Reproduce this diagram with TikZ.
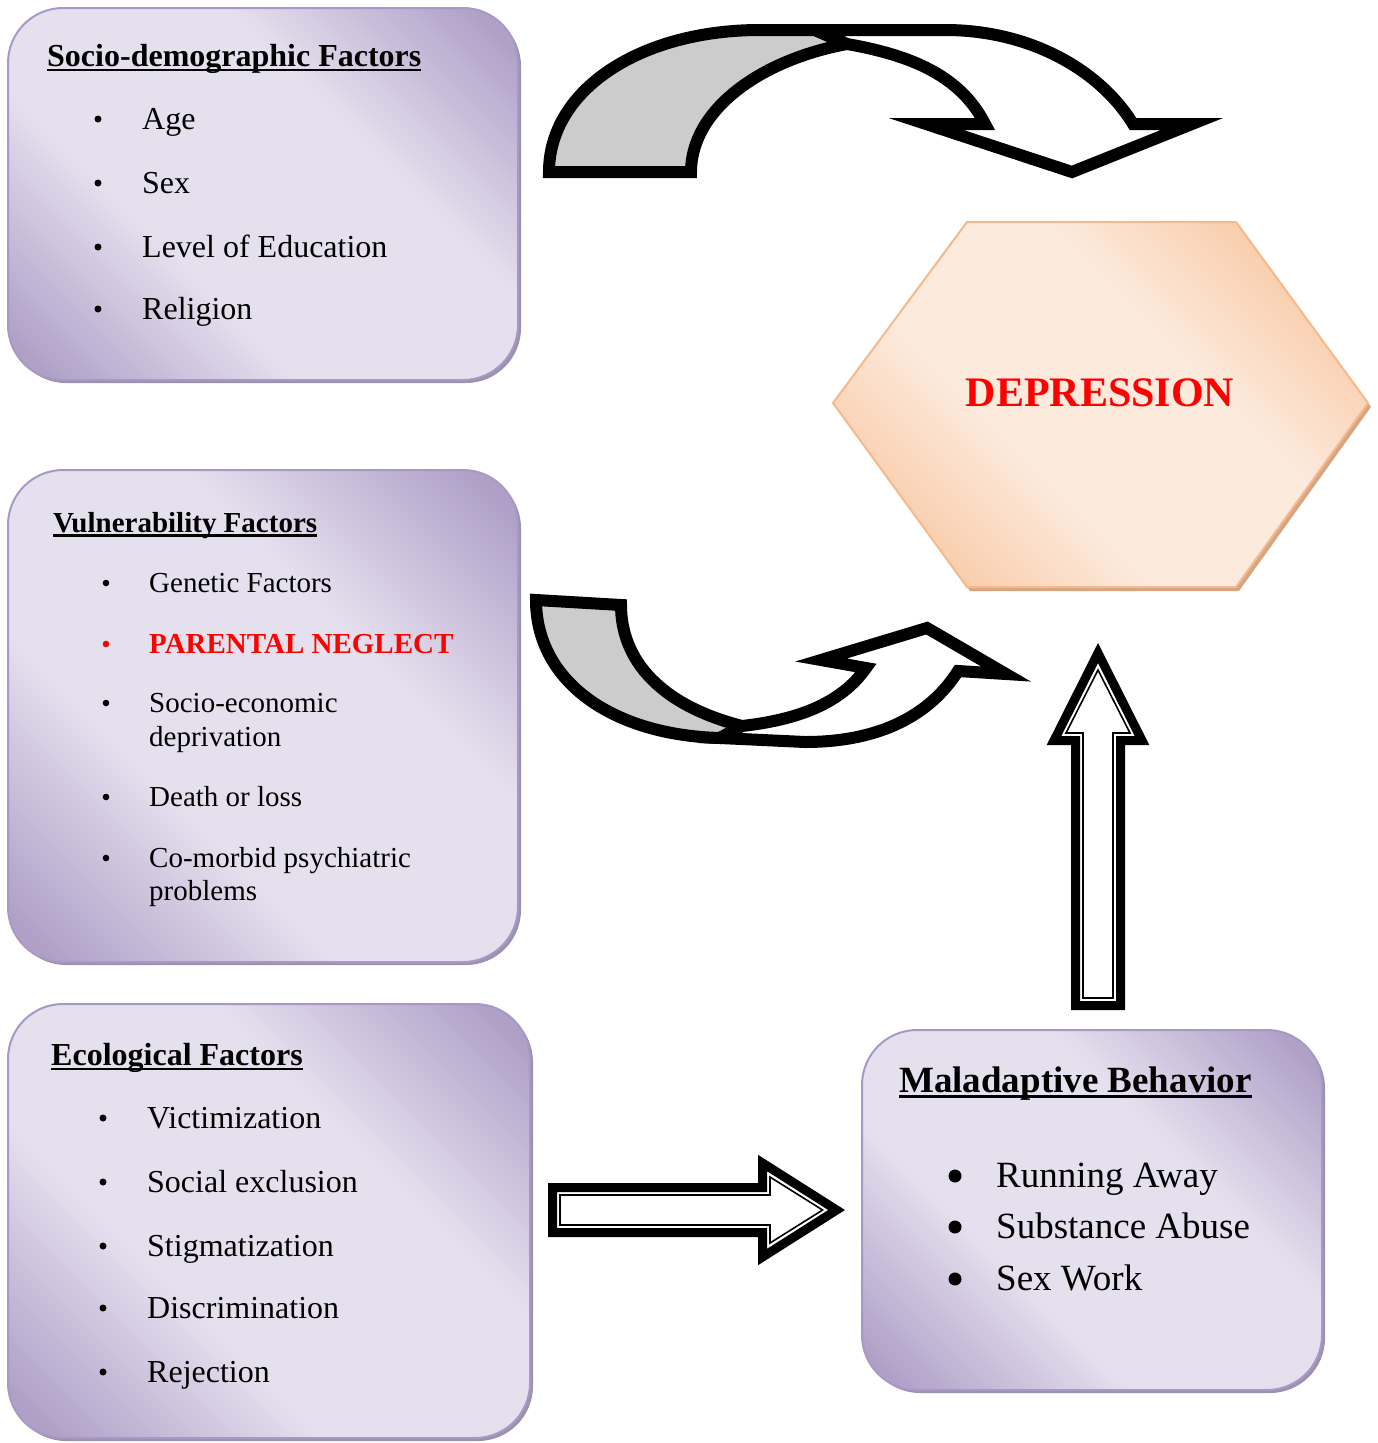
\documentclass[tikz,border=0pt]{standalone}
\usepackage{fontspec}
\setmainfont{Liberation Serif}
\usetikzlibrary{shadows}

\definecolor{lavdark}{HTML}{B0A0C8}
\definecolor{lavlight}{HTML}{E5E0EE}
\definecolor{lavedge}{HTML}{A898C6}
\definecolor{lavshadow}{HTML}{9C92AE}
\definecolor{peachdark}{HTML}{F8C49C}
\definecolor{peachlight}{HTML}{FCEADD}
\definecolor{peachedge}{HTML}{F5B98C}
\definecolor{peachshadow}{HTML}{D6A682}
\definecolor{bandgrey}{HTML}{CCCCCC}

\pgfdeclarehorizontalshading{lavshade}{100bp}{color(0bp)=(lavdark); color(18bp)=(lavdark); color(38bp)=(lavlight); color(62bp)=(lavlight); color(82bp)=(lavdark); color(100bp)=(lavdark)}
\pgfdeclarehorizontalshading{peachshade}{100bp}{color(0bp)=(peachdark); color(20bp)=(peachdark); color(40bp)=(peachlight); color(60bp)=(peachlight); color(80bp)=(peachdark); color(100bp)=(peachdark)}

\newcommand{\ulin}[1]{\setbox0\hbox{#1}\rlap{\rule[-0.17em]{\wd0}{0.085em}}\box0}

\tikzset{
  factorbox/.style={draw=lavedge, line width=2pt, rounded corners=55pt, shade, shading=lavshade, shading angle=45,
    general shadow={fill=lavshadow, shadow xshift=3pt, shadow yshift=-3pt}},
  hexbox/.style={draw=peachedge, line width=2pt, shade, shading=peachshade, shading angle=45},
  itm/.style={anchor=base west, inner sep=0pt},
  sz29/.style={font=\fontsize{29}{34}\selectfont},
  sz32/.style={font=\fontsize{32}{37}\selectfont},
  sz37/.style={font=\fontsize{37}{43}\selectfont},
  bandarrow/.style={draw=black, line width=12pt, line join=miter, miter limit=10},
  blockout/.style={draw=black, fill=white, line width=9pt, line join=miter},
  blockin/.style={draw=black, line width=1.6pt, line join=miter}
}

\begin{document}
\begin{tikzpicture}[x=1pt, y=-1pt]
\useasboundingbox (0,0) rectangle (1377,1443);

% factor boxes
\node[factorbox, minimum width=510pt, minimum height=372pt] (socio) at (263,194) {};
\node[factorbox, minimum width=510pt, minimum height=492pt] (vuln) at (263,716) {};
\node[factorbox, minimum width=522pt, minimum height=434pt] (eco) at (269,1221) {};
\node[factorbox, minimum width=460pt, minimum height=360pt] (malad) at (1092,1210) {};

% socio-demographic
\node[itm, sz32] (socio-t) at (47,66) {\bfseries\ulin{Socio-demographic Factors}};
\foreach \txt/\yy [count=\i] in {Age/129, Sex/193, Level of Education/257, Religion/319}{
  \fill (98,\yy-10) circle (3.5);
  \node[itm, sz32] (socio-\i) at (142,\yy) {\txt};
}

% vulnerability
\node[itm, sz29] (vuln-t) at (53,532) {\bfseries\ulin{Vulnerability Factors}};
\foreach \yy in {592,712,806,867}{\fill (106,\yy-9) circle (3.3);}
\fill[red] (106,644) circle (3.3);
\node[itm, sz29] (vuln-1) at (149,592) {Genetic Factors};
\node[itm, sz29, text=red] (vuln-2) at (149,653) {\bfseries PARENTAL NEGLECT};
\node[itm, sz29] (vuln-3) at (149,712) {Socio-economic};
\node[itm, sz29] (vuln-3b) at (149,746) {deprivation};
\node[itm, sz29] (vuln-4) at (149,806) {Death or loss};
\node[itm, sz29] (vuln-5) at (149,867) {Co-morbid psychiatric};
\node[itm, sz29] (vuln-5b) at (149,900) {problems};

% ecological
\node[itm, sz32] (eco-t) at (51,1065) {\bfseries\ulin{Ecological Factors}};
\foreach \txt/\yy [count=\i] in {Victimization/1128, Social exclusion/1192, Stigmatization/1256, Discrimination/1318, Rejection/1382}{
  \fill (103,\yy-10) circle (3.5);
  \node[itm, sz32] (eco-\i) at (147,\yy) {\txt};
}

% maladaptive behavior
\node[itm, sz37] (malad-t) at (899,1092) {\bfseries\ulin{Maladaptive Behavior}};
\foreach \txt/\yy [count=\i] in {Running Away/1187, Substance Abuse/1238, Sex Work/1290}{
  \fill (955,\yy-11) circle (6.5);
  \node[itm, sz37] (malad-\i) at (996,\yy) {\txt};
}

% depression hexagon
\fill[peachshadow] (836,407) -- (970,226) -- (1239,226) -- (1371,407) -- (1239,591) -- (970,591) -- cycle;
\path[hexbox] (833,403) -- (967,222) -- (1236,222) -- (1368,403) -- (1236,587) -- (967,587) -- cycle;
\node[anchor=base, inner sep=0pt, text=red, font=\fontsize{42}{48}\selectfont\bfseries] (dep) at (1100,406) {DEPRESSION};

% curved arrow, top
\draw[bandarrow, fill=bandgrey] (549,172) -- (691,172) .. controls (691,110) and (760,60) .. (847,44)
  -- (815,30) -- (760,30) .. controls (640,30) and (549,90) .. (549,172) -- cycle;
\draw[bandarrow, fill=white] (815,30) -- (945,30) .. controls (1030,30) and (1100,70) .. (1133,124)
  -- (1192,124) -- (1072,172) -- (926,124) -- (985,124) .. controls (960,75) and (910,55) .. (847,44) -- cycle;

% curved arrow, middle
\draw[bandarrow, fill=bandgrey] (536,600) -- (621,605) .. controls (621,660) and (660,705) .. (742,726)
  -- (720,738) .. controls (610,735) and (536,680) .. (536,600) -- cycle;
\draw[bandarrow, fill=white] (720,738) -- (805,742) .. controls (880,742) and (930,715) .. (958,671)
  -- (1006,674) -- (927,628) -- (821,660) -- (866,668) .. controls (840,705) and (795,720) .. (742,726) -- cycle;

% block arrow up
\draw[blockout] (1075.5,1005.5) -- (1075.5,740.5) -- (1054,740.5) -- (1098,653) -- (1142,740.5)
  -- (1120.5,740.5) -- (1120.5,1005.5) -- cycle;
\draw[blockin] (1083,998) -- (1083,733) -- (1066,733) -- (1098,670) -- (1130,733) -- (1113,733) -- (1113,998) -- cycle;

% block arrow right
\draw[blockout] (552.5,1187.5) -- (762.5,1187.5) -- (762.5,1163) -- (836.6,1210) -- (762.5,1257)
  -- (762.5,1232.5) -- (552.5,1232.5) -- cycle;
\draw[blockin] (560,1195) -- (770,1195) -- (770,1177) -- (822.6,1210) -- (770,1243) -- (770,1225) -- (560,1225) -- cycle;
\end{tikzpicture}
\end{document}
